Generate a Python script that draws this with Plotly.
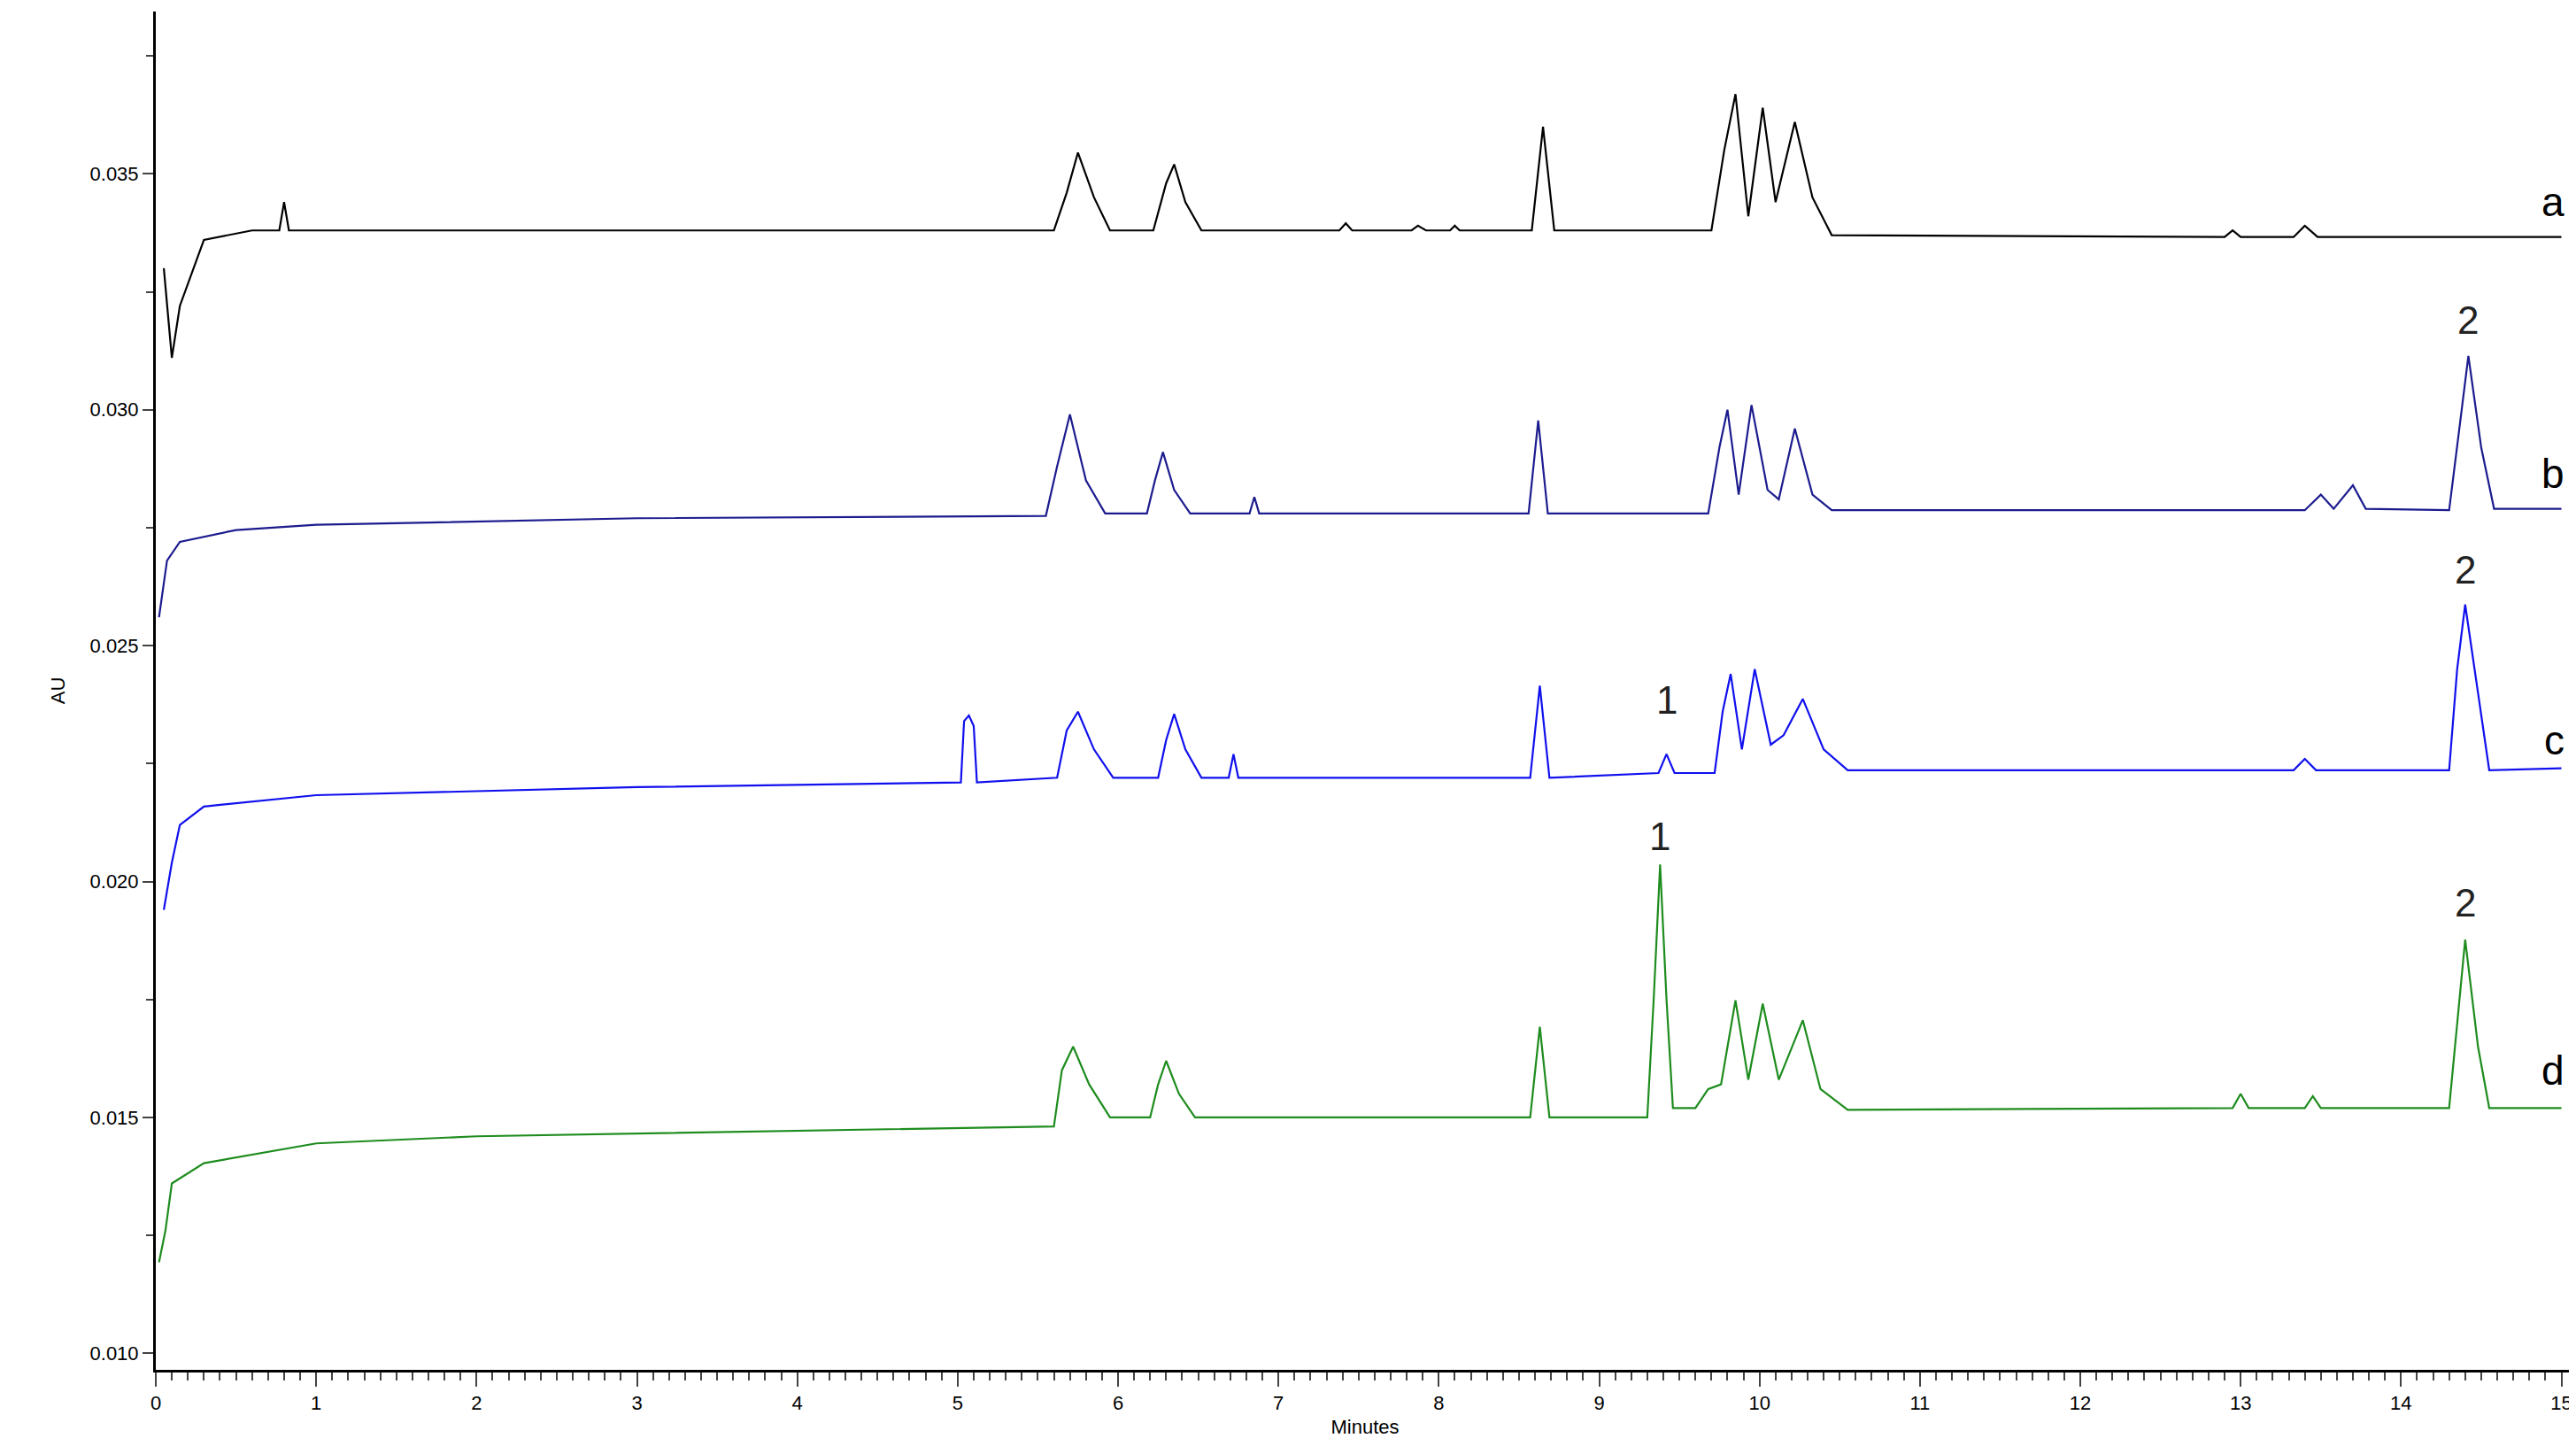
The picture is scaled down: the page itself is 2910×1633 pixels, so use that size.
import plotly.graph_objects as go

# chromatogram traces (minutes, AU)
a_x = [0.05, 0.1, 0.15, 0.3, 0.6, 0.77, 0.8, 0.83, 5.6, 5.68, 5.75, 5.85, 5.95, 6.22, 6.3, 6.35, 6.42, 6.52,
       7.38, 7.42, 7.46, 7.83, 7.87, 7.92, 8.07, 8.1, 8.13, 8.58, 8.65, 8.72, 9.7, 9.78, 9.85, 9.93, 10.02,
       10.1, 10.22, 10.33, 10.45, 12.9, 12.95, 13.0, 13.33, 13.4, 13.48, 15.0]
a_y = [0.0330, 0.0311, 0.0322, 0.0336, 0.0338, 0.0338, 0.0344, 0.0338, 0.0338, 0.0346, 0.03545, 0.0345, 0.0338,
       0.0338, 0.0348, 0.0352, 0.0344, 0.0338, 0.0338, 0.03395, 0.0338, 0.0338, 0.0339, 0.0338, 0.0338, 0.0339,
       0.0338, 0.0338, 0.0360, 0.0338, 0.0338, 0.0355, 0.03669, 0.0341, 0.0364, 0.0344, 0.0361, 0.0345, 0.0337,
       0.03366, 0.0338, 0.03366, 0.03366, 0.0339, 0.03366, 0.03366]

b_x = [0.02, 0.07, 0.15, 0.5, 1, 3, 5.55, 5.62, 5.7, 5.8, 5.92, 6.18, 6.23, 6.28, 6.35, 6.45, 6.82, 6.85, 6.88,
       8.56, 8.62, 8.68, 9.68, 9.75, 9.8, 9.87, 9.95, 10.05, 10.12, 10.22, 10.33, 10.45, 13.4, 13.5, 13.58,
       13.7, 13.78, 14.3, 14.36, 14.42, 14.5, 14.58, 15.0]
b_y = [0.0256, 0.0268, 0.0272, 0.02745, 0.02756, 0.0277, 0.02775, 0.0288, 0.0299, 0.0285, 0.0278, 0.0278, 0.0285,
       0.0291, 0.0283, 0.0278, 0.0278, 0.02815, 0.0278, 0.0278, 0.02977, 0.0278, 0.0278, 0.0292, 0.0300, 0.0282,
       0.0301, 0.0283, 0.0281, 0.0296, 0.0282, 0.02787, 0.02787, 0.0282, 0.0279, 0.0284, 0.0279, 0.02787, 0.0295,
       0.03114, 0.0292, 0.0279, 0.0279]

c_x = [0.05, 0.1, 0.15, 0.3, 1, 3, 5.02, 5.04, 5.07, 5.1, 5.12, 5.62, 5.68, 5.75, 5.85, 5.97, 6.25, 6.3, 6.35,
       6.42, 6.52, 6.69, 6.72, 6.75, 8.57, 8.63, 8.69, 9.37, 9.42, 9.47, 9.72, 9.77, 9.82, 9.89, 9.97, 10.07,
       10.15, 10.27, 10.4, 10.55, 13.33, 13.4, 13.47, 14.3, 14.35, 14.4, 14.48, 14.55, 15.0]
c_y = [0.0194, 0.0204, 0.0212, 0.02159, 0.02183, 0.0220, 0.0221, 0.0234, 0.02352, 0.0233, 0.0221, 0.0222, 0.0232,
       0.0236, 0.0228, 0.0222, 0.0222, 0.0230, 0.02355, 0.0228, 0.0222, 0.0222, 0.0227, 0.0222, 0.0222, 0.02415,
       0.0222, 0.0223, 0.0227, 0.0223, 0.0223, 0.0236, 0.0244, 0.0228, 0.0245, 0.0229, 0.0231, 0.02387, 0.0228,
       0.02236, 0.02236, 0.0226, 0.02236, 0.02236, 0.0245, 0.02587, 0.0240, 0.02236, 0.0224]

d_x = [0.02, 0.06, 0.1, 0.3, 1, 2, 5.6, 5.65, 5.72, 5.82, 5.95, 6.2, 6.25, 6.3, 6.38, 6.48, 8.57, 8.63, 8.69,
       9.3, 9.34, 9.38, 9.42, 9.46, 9.6, 9.68, 9.76, 9.85, 9.93, 10.02, 10.12, 10.27, 10.38, 10.55, 12.95, 13.0,
       13.05, 13.4, 13.45, 13.5, 14.3, 14.35, 14.4, 14.48, 14.55, 15.0]
d_y = [0.01193, 0.0126, 0.0136, 0.01403, 0.01445, 0.0146, 0.01481, 0.0160, 0.0165, 0.0157, 0.0150, 0.0150, 0.0157,
       0.0162, 0.0155, 0.0150, 0.0150, 0.01692, 0.0150, 0.0150, 0.0175, 0.02036, 0.0175, 0.0152, 0.0152, 0.0156,
       0.0157, 0.01748, 0.0158, 0.01741, 0.0158, 0.01706, 0.0156, 0.01516, 0.0152, 0.0155, 0.0152, 0.0152, 0.01545,
       0.0152, 0.0152, 0.0170, 0.01877, 0.0165, 0.0152, 0.0152]

traces = [(a_x, a_y, "#000000", "a"), (b_x, b_y, "#1c1c8f", "b"),
          (c_x, c_y, "#1010ee", "c"), (d_x, d_y, "#1e8c1e", "d")]
letter_y = [0.0344, 0.02865, 0.0230, 0.0160]
peak_labels = [(14.42, 0.0319), (9.42, 0.02385), (14.4, 0.0266), (9.38, 0.02095), (14.4, 0.01955)]
peak_text = ["2", "1", "2", "1", "2"]

fig = go.Figure()
for x, y, col, name in traces:
    fig.add_trace(go.Scatter(x=x, y=y, mode="lines", line=dict(color=col, width=2.2),
                             name=name, showlegend=False))

for (x, y, col, name), ly in zip(traces, letter_y):
    fig.add_annotation(x=15.03, y=ly, text=name, showarrow=False, xanchor="right",
                       font=dict(size=46, color="black", family="Liberation Sans"))
for (px, py), t in zip(peak_labels, peak_text):
    fig.add_annotation(x=px, y=py, text=t, showarrow=False,
                       font=dict(size=44, color="#222", family="Liberation Sans"))

fig.update_layout(
    width=2910, height=1633, plot_bgcolor="white", paper_bgcolor="white",
    margin=dict(l=168, r=10, t=5, b=94),
    font=dict(family="Liberation Sans", color="black"),
)
fig.update_xaxes(range=[0, 15.08], dtick=1, showgrid=False, zeroline=False, showline=True, linecolor="black",
                 linewidth=3, mirror=False, ticks="outside", ticklen=16, tickwidth=2, tickfont=dict(size=22),
                 minor=dict(dtick=0.1, ticks="outside", ticklen=9, tickwidth=2),
                 title=dict(text="Minutes", font=dict(size=22), standoff=8))
fig.update_yaxes(range=[0.00965, 0.03844], dtick=0.005, tickformat=".3f", showgrid=False, zeroline=False,
                 showline=True, linecolor="black", linewidth=3, ticks="outside", ticklen=12, tickwidth=2,
                 tickfont=dict(size=22), minor=dict(dtick=0.0025, ticks="outside", ticklen=8, tickwidth=2),
                 title=dict(text="AU", font=dict(size=22), standoff=22))
fig.write_html("out.html")
